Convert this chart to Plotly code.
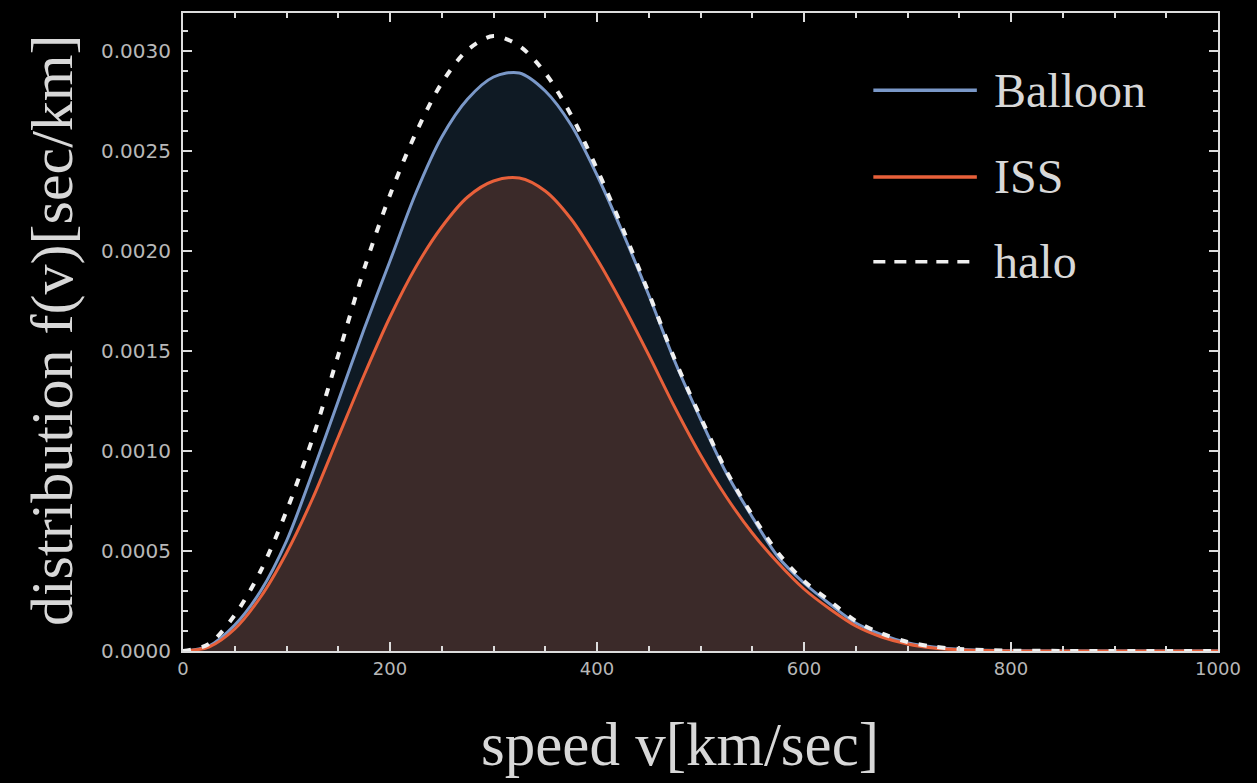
import plotly.graph_objects as go

# speed grid [km/sec]
speed = [0, 25, 50, 75, 100, 125, 150, 175, 200, 225, 250, 275, 300, 325, 350, 375,
         400, 425, 450, 475, 500, 525, 550, 575, 600, 625, 650, 675, 700, 725, 750,
         775, 800, 850, 900, 950, 1000]

halo = [0, 0.000035, 0.00018, 0.00040, 0.00070, 0.00106, 0.00148, 0.00191, 0.00228,
        0.00259, 0.00284, 0.003005, 0.003075, 0.003025, 0.00289, 0.00268,
        0.00241, 0.00211, 0.00179, 0.00146, 0.00117, 0.00090, 0.00068, 0.00049,
        0.00035, 0.00025, 0.00015, 0.000088, 0.000045, 0.000022, 0.00001,
        0.000005, 0.000002, 0.0000005, 0, 0, 0]

balloon = [0, 0.000025, 0.00013, 0.00030, 0.00055, 0.00089, 0.00125, 0.00161, 0.00195,
           0.00229, 0.00257, 0.00276, 0.00287, 0.00289, 0.00280, 0.00263,
           0.00238, 0.00209, 0.00178, 0.00145, 0.00116, 0.00089, 0.00067, 0.00047,
           0.00034, 0.000235, 0.00014, 0.000082, 0.000042, 0.00002, 0.000009,
           0.000004, 0.000001, 0, 0, 0, 0]

iss = [0, 0.00002, 0.00011, 0.00027, 0.00049, 0.00076, 0.00107, 0.00138, 0.00167,
       0.00192, 0.00212, 0.00227, 0.00235, 0.002365, 0.00230, 0.00216,
       0.00196, 0.00173, 0.00148, 0.00122, 0.00098, 0.00077, 0.00059, 0.00044,
       0.00031, 0.00021, 0.000125, 0.00007, 0.000035, 0.000015, 0.000006,
       0.000002, 0, 0, 0, 0, 0]

x_ticks = [0, 200, 400, 600, 800, 1000]
y_ticks = [0.0, 0.0005, 0.0010, 0.0015, 0.0020, 0.0025, 0.0030]

BALLOON_C = "#7a98c8"
ISS_C = "#e8603a"
HALO_C = "#f0f0f0"
FRAME_C = "#dcdcdc"
TEXT_C = "#d8d8d8"
SERIF = "Liberation Serif"

fig = go.Figure()
fig.add_trace(go.Scatter(x=speed, y=balloon, mode="lines", name="Balloon",
                         line=dict(color=BALLOON_C, width=3, shape="spline", smoothing=0.9),
                         fill="tozeroy", fillcolor="#0f1a24", showlegend=False))
fig.add_trace(go.Scatter(x=speed, y=iss, mode="lines", name="ISS",
                         line=dict(color=ISS_C, width=3, shape="spline", smoothing=0.9),
                         fill="tozeroy", fillcolor="#3b2a29", showlegend=False))
fig.add_trace(go.Scatter(x=speed, y=halo, mode="lines", name="halo",
                         line=dict(color=HALO_C, width=4, dash="8px,11px", shape="spline", smoothing=0.9),
                         showlegend=False))

# custom legend (paper coordinates)
legend_items = [("Balloon", BALLOON_C, "solid", 0.879),
                ("ISS", ISS_C, "solid", 0.743),
                ("halo", HALO_C, "12px,9px", 0.610)]
for label, col, dash, yy in legend_items:
    fig.add_shape(type="line", xref="paper", yref="paper", x0=0.667, x1=0.767, y0=yy, y1=yy,
                  line=dict(color=col, width=3.5, dash=dash))
    fig.add_annotation(xref="paper", yref="paper", x=0.782, y=yy, text=label, showarrow=False,
                       xanchor="left", yanchor="middle",
                       font=dict(family=SERIF, size=48, color=TEXT_C))

# axis titles
fig.add_annotation(xref="paper", yref="paper", x=0.48, y=-0.147, text="speed v[km/sec]",
                   showarrow=False, xanchor="center", yanchor="middle",
                   font=dict(family=SERIF, size=61, color=TEXT_C))
fig.add_annotation(xref="paper", yref="paper", x=-0.1266, y=0.503, text="distribution f(v)[sec/km]",
                   showarrow=False, xanchor="center", yanchor="middle", textangle=-90,
                   font=dict(family=SERIF, size=60, color=TEXT_C))

axis_common = dict(showline=True, linecolor=FRAME_C, linewidth=2, mirror="allticks",
                   ticks="inside", tickcolor=FRAME_C, tickwidth=2, ticklen=9,
                   showgrid=False, zeroline=False)

fig.update_xaxes(range=[0, 1000], tickvals=x_ticks, ticktext=[str(v) for v in x_ticks],
                 tickfont=dict(family="DejaVu Sans", size=18, color="#b8b8b8"),
                 minor=dict(dtick=50, tick0=0, ticks="inside", ticklen=5, tickcolor=FRAME_C, tickwidth=1.5),
                 **axis_common)
fig.update_yaxes(range=[0, 0.00319], tickvals=y_ticks, ticktext=[f"{v:.4f}" for v in y_ticks],
                 tickfont=dict(family="DejaVu Sans", size=20, color="#b8b8b8"),
                 ticklabelstandoff=6,
                 minor=dict(dtick=0.0001, tick0=0, ticks="inside", ticklen=5, tickcolor=FRAME_C, tickwidth=1.5),
                 **axis_common)

fig.update_layout(width=1257, height=783,
                  margin=dict(l=183, r=39, t=13, b=132),
                  paper_bgcolor="black", plot_bgcolor="black",
                  showlegend=False)

fig.write_html("out.html", config={"displayModeBar": False},
               post_script="document.body.style.margin='0';document.body.style.background='black';")
